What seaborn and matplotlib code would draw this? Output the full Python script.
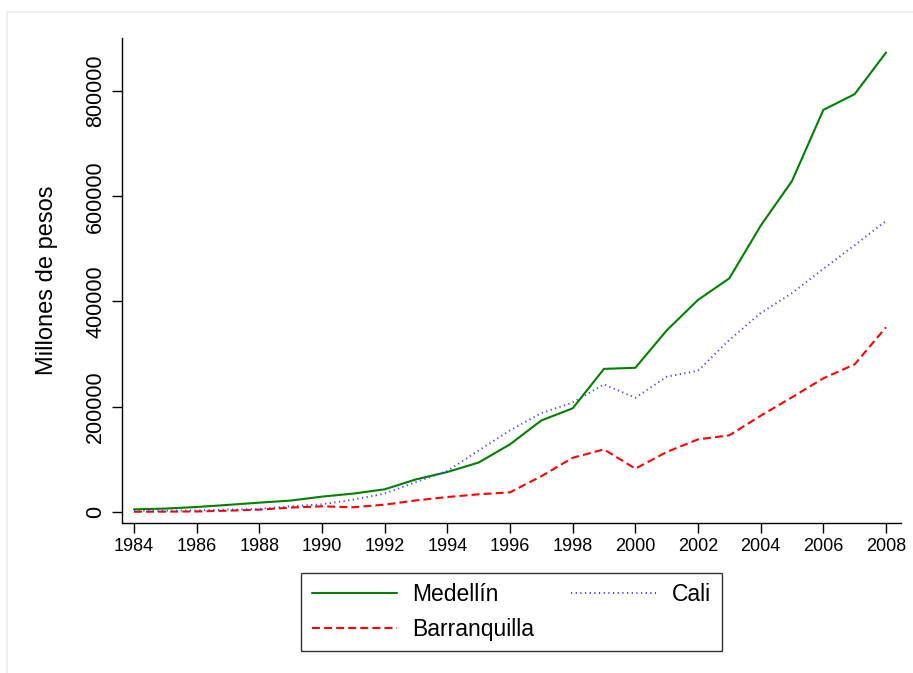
import matplotlib
matplotlib.use('Agg')
import matplotlib.pyplot as plt
import matplotlib.patches as mpatches
import numpy as np
import pandas as pd
import seaborn as sns

years = list(range(1984, 2009))

medellin = [5100, 6500, 9500, 13500, 17800, 21700, 29200, 35000, 43100, 62000,
            76000, 94000, 128600, 174000, 197000, 272000, 274000, 345000, 403000,
            444000, 544000, 629000, 764000, 794000, 873000]
cali = [2000, 2500, 3000, 4500, 6000, 10800, 14600, 23600, 35000, 57000,
        78000, 117000, 155000, 188000, 208000, 242600, 217000, 257000, 268500,
        327000, 378000, 416000, 462000, 507000, 553000]
barranquilla = [500, 700, 1000, 2500, 4500, 8400, 10800, 9000, 14000, 22000,
                28500, 33600, 37400, 68000, 103000, 119000, 82300, 114000, 138000,
                145700, 183000, 218000, 254000, 280600, 351000]

x_ticks = list(range(1984, 2009, 2))
y_ticks = [0, 200000, 400000, 600000, 800000]

sns.set_style('white')
plt.rcParams['font.family'] = ['Liberation Sans', 'DejaVu Sans']
plt.rcParams['text.color'] = 'black'

df = pd.DataFrame({'year': years, 'Medellín': medellin,
                   'Barranquilla': barranquilla, 'Cali': cali})

fig = plt.figure(figsize=(9.13, 6.73), dpi=100)
# faint outer frame of the graph region (only left/top visible)
fig.patches.append(mpatches.Rectangle((7 / 913, -0.1), 1.2, 1.1 - 12 / 673,
                                      transform=fig.transFigure, fill=False,
                                      edgecolor='#ececec', linewidth=1.2))
ax = fig.add_axes([122 / 913, 1 - 523 / 673, (901 - 122) / 913, (523 - 38) / 673])

styles = {
    'Medellín': dict(color='#008000', linestyle='-', linewidth=1.5),
    'Barranquilla': dict(color='#ff0000', linestyle=(0, (3.8, 2.0)), linewidth=1.5),
    'Cali': dict(color='#3a3aff', linestyle=(0, (0.6, 1.8)), linewidth=1.4),
}
for city in ['Medellín', 'Barranquilla', 'Cali']:
    sns.lineplot(data=df, x='year', y=city, ax=ax, label=city, **styles[city])

ax.set_xlim(1983.617, 2008.479)
ax.set_ylim(-20900, 900700)
ax.set_xticks(x_ticks)
ax.set_yticks(y_ticks)
ax.set_yticklabels([str(v) for v in y_ticks], rotation=90, va='center')
ax.tick_params(axis='x', direction='out', length=7, width=1, pad=3.5,
               labelsize=13, colors='black', bottom=True)
ax.tick_params(axis='y', direction='out', length=7, width=1, pad=4.5,
               labelsize=15.5, colors='black', left=True)
ax.set_xlabel('')
ax.set_ylabel('Millones de pesos', fontsize=17, color='black')
ax.yaxis.set_label_coords(-0.082, 0.5)
sns.despine(ax=ax)
for s in ['left', 'bottom']:
    ax.spines[s].set_color('black')
    ax.spines[s].set_linewidth(1.0)

ax.get_legend().remove()
handles, labels = ax.get_legend_handles_labels()
leg = fig.legend(handles, labels, ncol=2, loc='upper center',
                 bbox_to_anchor=(511.5 / 913, 1 - 573 / 673),
                 fontsize=16.5, frameon=True, fancybox=False, edgecolor='black',
                 handlelength=3.7, handletextpad=0.7, columnspacing=1.6,
                 borderpad=0.45, labelspacing=0.5, borderaxespad=0)
leg.get_frame().set_linewidth(1.0)
for t in leg.get_texts():
    t.set_color('black')

fig.savefig('out.png', dpi=100)
